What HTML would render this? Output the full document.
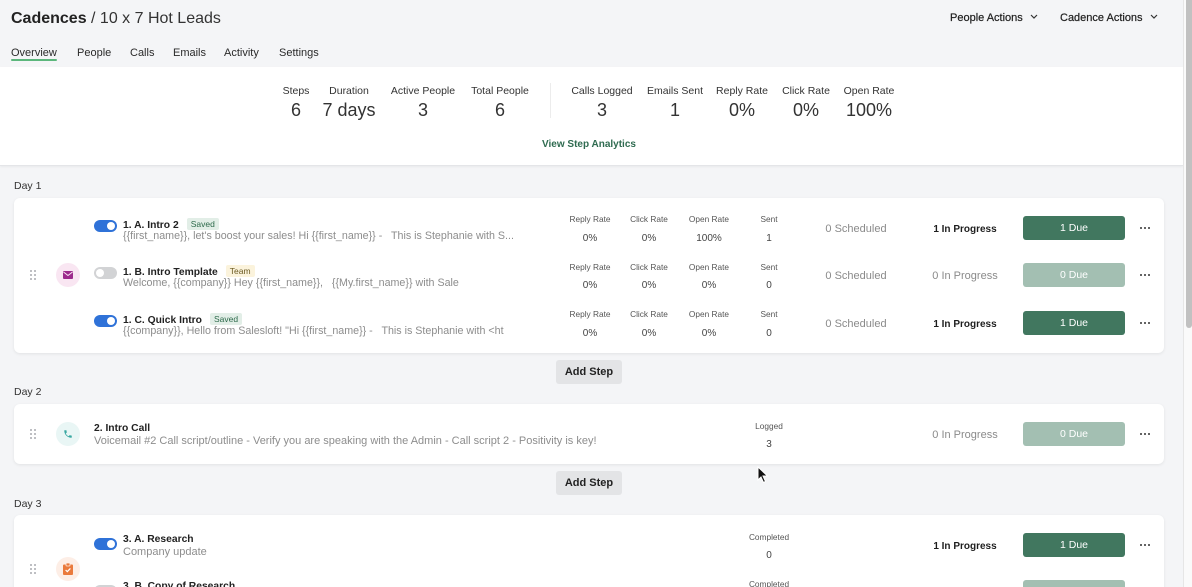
<!DOCTYPE html>
<html>
<head>
<meta charset="utf-8">
<style>
*{margin:0;padding:0;box-sizing:border-box}
html,body{width:1192px;height:587px;overflow:hidden;background:#f4f5f7;font-family:"Liberation Sans",Arial,sans-serif;color:#2b2b2b}
#w{position:relative;width:1192px;height:587px;overflow:hidden;background:#f4f5f7}
.a{position:absolute;white-space:pre;line-height:1;margin-top:1.5px}
.c{position:absolute;white-space:pre;line-height:1;text-align:center;width:140px;margin-left:-70px;margin-top:1.5px}
.card{position:absolute;left:14px;width:1150px;background:#fff;border-radius:6px;box-shadow:0 1px 3px rgba(0,0,0,.08)}
.tog{position:absolute;left:94px;width:23px;height:12px;border-radius:6px;background:#2f72d8}
.tog::after{content:"";position:absolute;top:2px;right:2px;width:8px;height:8px;border-radius:50%;background:#fff}
.tog.off{background:#d2d3d5}
.tog.off::after{right:auto;left:2px}
.ttl{position:absolute;left:123px;font-size:10.3px;font-weight:bold;line-height:1;white-space:pre;color:#222;margin-top:1px}
.badge{display:inline-block;font-size:8.5px;font-weight:normal;padding:2px 4px;border-radius:2px;margin-left:8px;vertical-align:1px}
.saved{background:#e2eee7;color:#2d6a4b}
.team{background:#fbf3dc;color:#6b5a22}
.sub{position:absolute;left:123px;font-size:10.7px;line-height:1;white-space:pre;color:#8d8d8d;margin-top:0.5px}
.lbl{font-size:8.3px;color:#555}
.val{font-size:10px;color:#444}
.sch{font-size:11px;color:#8a8a8a}
.prog{font-size:10px;font-weight:bold;color:#1e1e1e}
.prog.g{font-weight:normal;color:#8a8a8a;font-size:11px}
.btn{position:absolute;left:1023px;width:102px;height:24px;border-radius:3px;background:#41775f;color:#fff;font-size:10.5px;text-align:center;line-height:25px}
.btn.l{background:#a3bfb2}
.dots{position:absolute;left:1140px;width:10px;height:3px}
.dots i{position:absolute;top:0;width:2.2px;height:2.2px;border-radius:50%;background:#333}
.drag{position:absolute;left:30px;width:7px;height:10px}
.drag i{position:absolute;width:2px;height:2px;background:#a9abb0;border-radius:1px}
.ico{position:absolute;left:56px;width:24px;height:24px;border-radius:50%}
.add{position:absolute;left:556px;width:66px;height:24px;border-radius:3px;background:#e3e4e6;font-size:11px;font-weight:bold;text-align:center;line-height:25px;color:#222}
</style>
</head>
<body>
<div id="w">

<!-- Header -->
<div class="a" style="left:11px;top:9px;font-size:16px;color:#222"><b>Cadences</b><span style="color:#333"> / 10 x 7 Hot Leads</span></div>
<div class="a" style="left:11px;top:46px;font-size:11px;color:#2a2a2a">Overview</div>
<div class="a" style="left:77px;top:46px;font-size:11px;color:#2a2a2a">People</div>
<div class="a" style="left:130px;top:46px;font-size:11px;color:#2a2a2a">Calls</div>
<div class="a" style="left:173px;top:46px;font-size:11px;color:#2a2a2a">Emails</div>
<div class="a" style="left:224px;top:46px;font-size:11px;color:#2a2a2a">Activity</div>
<div class="a" style="left:279px;top:46px;font-size:11px;color:#2a2a2a">Settings</div>
<div style="position:absolute;left:11px;top:59px;width:46px;height:2px;background:#5cb77c;border-radius:1px"></div>

<div class="a" style="left:950px;top:11px;font-size:11px;color:#1e1e1e;-webkit-text-stroke:0.2px #1e1e1e">People Actions</div>
<svg style="position:absolute;left:1030px;top:14px" width="8" height="5" viewBox="0 0 8 5"><path d="M1 1 L4 4 L7 1" fill="none" stroke="#333" stroke-width="1.2"/></svg>
<div class="a" style="left:1060px;top:11px;font-size:11px;color:#1e1e1e;-webkit-text-stroke:0.2px #1e1e1e">Cadence Actions</div>
<svg style="position:absolute;left:1150px;top:14px" width="8" height="5" viewBox="0 0 8 5"><path d="M1 1 L4 4 L7 1" fill="none" stroke="#333" stroke-width="1.2"/></svg>

<!-- Stats panel -->
<div style="position:absolute;left:0;top:67px;width:1183px;height:99px;background:#fff;border-bottom:1px solid #e4e5e8;box-shadow:0 1px 2px rgba(0,0,0,.05)"></div>
<div class="c" style="left:296px;top:84px;font-size:10.5px;color:#333">Steps</div>
<div class="c" style="left:349px;top:84px;font-size:10.5px;color:#333">Duration</div>
<div class="c" style="left:423px;top:84px;font-size:10.5px;color:#333">Active People</div>
<div class="c" style="left:500px;top:84px;font-size:10.5px;color:#333">Total People</div>
<div class="c" style="left:602px;top:84px;font-size:10.5px;color:#333">Calls Logged</div>
<div class="c" style="left:675px;top:84px;font-size:10.5px;color:#333">Emails Sent</div>
<div class="c" style="left:742px;top:84px;font-size:10.5px;color:#333">Reply Rate</div>
<div class="c" style="left:806px;top:84px;font-size:10.5px;color:#333">Click Rate</div>
<div class="c" style="left:869px;top:84px;font-size:10.5px;color:#333">Open Rate</div>

<div class="c" style="left:296px;top:99px;font-size:18px;color:#333">6</div>
<div class="c" style="left:349px;top:99px;font-size:18px;color:#333">7 days</div>
<div class="c" style="left:423px;top:99px;font-size:18px;color:#333">3</div>
<div class="c" style="left:500px;top:99px;font-size:18px;color:#333">6</div>
<div class="c" style="left:602px;top:99px;font-size:18px;color:#333">3</div>
<div class="c" style="left:675px;top:99px;font-size:18px;color:#333">1</div>
<div class="c" style="left:742px;top:99px;font-size:18px;color:#333">0%</div>
<div class="c" style="left:806px;top:99px;font-size:18px;color:#333">0%</div>
<div class="c" style="left:869px;top:99px;font-size:18px;color:#333">100%</div>
<div style="position:absolute;left:550px;top:83px;width:1px;height:35px;background:#ececec"></div>
<div class="c" style="left:589px;top:138.5px;font-size:10px;font-weight:bold;color:#2f6b50">View Step Analytics</div>

<!-- Day 1 -->
<div class="a" style="left:14px;top:179.5px;font-size:10.5px;color:#333">Day 1</div>
<div class="card" style="top:198px;height:155px"></div>

<div class="drag" style="top:270px"><i style="left:0;top:0"></i><i style="left:4px;top:0"></i><i style="left:0;top:4px"></i><i style="left:4px;top:4px"></i><i style="left:0;top:8px"></i><i style="left:4px;top:8px"></i></div>
<div class="ico" style="top:263px;background:#f9e6f2"><svg style="position:absolute;left:7px;top:8px" width="10" height="8" viewBox="0 0 10 8"><rect x="0" y="0" width="10" height="8" rx="1" fill="#9d2a8c"/><path d="M0.5 1 L5 4.5 L9.5 1" fill="none" stroke="#f9e6f2" stroke-width="1"/></svg></div>

<!-- row 1 -->
<div class="tog" style="top:220px"></div>
<div class="ttl" style="top:216.5px">1. A. Intro 2<span class="badge saved">Saved</span></div>
<div class="sub" style="top:230.5px">{{first_name}}, let's boost your sales! Hi {{first_name}} -   This is Stephanie with S...</div>
<!-- row 2 -->
<div class="tog off" style="top:267px"></div>
<div class="ttl" style="top:263.5px">1. B. Intro Template<span class="badge team">Team</span></div>
<div class="sub" style="top:277.5px">Welcome, {{company}} Hey {{first_name}},   {{My.first_name}} with Sale</div>
<!-- row 3 -->
<div class="tog" style="top:315px"></div>
<div class="ttl" style="top:311.5px">1. C. Quick Intro<span class="badge saved">Saved</span></div>
<div class="sub" style="top:325.5px">{{company}}, Hello from Salesloft! "Hi {{first_name}} -   This is Stephanie with &lt;ht</div>

<!-- stats rows -->
<div class="c lbl" style="left:590px;top:213px">Reply Rate</div>
<div class="c lbl" style="left:649px;top:213px">Click Rate</div>
<div class="c lbl" style="left:709px;top:213px">Open Rate</div>
<div class="c lbl" style="left:769px;top:213px">Sent</div>
<div class="c val" style="left:590px;top:232px">0%</div>
<div class="c val" style="left:649px;top:232px">0%</div>
<div class="c val" style="left:709px;top:232px">100%</div>
<div class="c val" style="left:769px;top:232px">1</div>

<div class="c lbl" style="left:590px;top:261px">Reply Rate</div>
<div class="c lbl" style="left:649px;top:261px">Click Rate</div>
<div class="c lbl" style="left:709px;top:261px">Open Rate</div>
<div class="c lbl" style="left:769px;top:261px">Sent</div>
<div class="c val" style="left:590px;top:279px">0%</div>
<div class="c val" style="left:649px;top:279px">0%</div>
<div class="c val" style="left:709px;top:279px">0%</div>
<div class="c val" style="left:769px;top:279px">0</div>

<div class="c lbl" style="left:590px;top:308px">Reply Rate</div>
<div class="c lbl" style="left:649px;top:308px">Click Rate</div>
<div class="c lbl" style="left:709px;top:308px">Open Rate</div>
<div class="c lbl" style="left:769px;top:308px">Sent</div>
<div class="c val" style="left:590px;top:327px">0%</div>
<div class="c val" style="left:649px;top:327px">0%</div>
<div class="c val" style="left:709px;top:327px">0%</div>
<div class="c val" style="left:769px;top:327px">0</div>

<div class="c sch" style="left:856px;top:222.5px">0 Scheduled</div>
<div class="c sch" style="left:856px;top:269.5px">0 Scheduled</div>
<div class="c sch" style="left:856px;top:317.5px">0 Scheduled</div>
<div class="c prog" style="left:965px;top:223px">1 In Progress</div>
<div class="c prog g" style="left:965px;top:269.5px">0 In Progress</div>
<div class="c prog" style="left:965px;top:318px">1 In Progress</div>
<div class="btn" style="top:216px">1 Due</div>
<div class="btn l" style="top:263px">0 Due</div>
<div class="btn" style="top:311px">1 Due</div>
<div class="dots" style="top:227px"><i style="left:0"></i><i style="left:3.8px"></i><i style="left:7.6px"></i></div>
<div class="dots" style="top:274px"><i style="left:0"></i><i style="left:3.8px"></i><i style="left:7.6px"></i></div>
<div class="dots" style="top:322px"><i style="left:0"></i><i style="left:3.8px"></i><i style="left:7.6px"></i></div>

<div class="add" style="top:360px">Add Step</div>

<!-- Day 2 -->
<div class="a" style="left:14px;top:385.5px;font-size:10.5px;color:#333">Day 2</div>
<div class="card" style="top:404px;height:60px"></div>
<div class="drag" style="top:429px"><i style="left:0;top:0"></i><i style="left:4px;top:0"></i><i style="left:0;top:4px"></i><i style="left:4px;top:4px"></i><i style="left:0;top:8px"></i><i style="left:4px;top:8px"></i></div>
<div class="ico" style="top:422px;background:#e9f6f5"><svg style="position:absolute;left:7px;top:7px" width="10" height="10" viewBox="0 0 24 24"><path d="M6.6 10.8c1.4 2.8 3.8 5.1 6.6 6.6l2.2-2.2c.3-.3.7-.4 1-.2 1.1.4 2.3.6 3.6.6.6 0 1 .4 1 1V20c0 .6-.4 1-1 1C10.6 21 3 13.4 3 4c0-.6.4-1 1-1h3.5c.6 0 1 .4 1 1 0 1.3.2 2.5.6 3.6.1.3 0 .7-.2 1L6.6 10.8z" fill="#39a8a2"/></svg></div>
<div class="ttl" style="left:94px;top:422.5px">2. Intro Call</div>
<div class="sub" style="left:94px;top:435.5px;font-size:11px">Voicemail #2 Call script/outline - Verify you are speaking with the Admin - Call script 2 - Positivity is key!</div>
<div class="c lbl" style="left:769px;top:420px">Logged</div>
<div class="c val" style="left:769px;top:438px">3</div>
<div class="c prog g" style="left:965px;top:428.5px">0 In Progress</div>
<div class="btn l" style="top:422px">0 Due</div>
<div class="dots" style="top:433px"><i style="left:0"></i><i style="left:3.8px"></i><i style="left:7.6px"></i></div>

<div class="add" style="top:471px">Add Step</div>

<!-- Day 3 -->
<div class="a" style="left:14px;top:497.5px;font-size:10.5px;color:#333">Day 3</div>
<div class="card" style="top:515px;height:80px"></div>
<div class="drag" style="top:564px"><i style="left:0;top:0"></i><i style="left:4px;top:0"></i><i style="left:0;top:4px"></i><i style="left:4px;top:4px"></i><i style="left:0;top:8px"></i><i style="left:4px;top:8px"></i></div>
<div class="ico" style="top:557px;background:#fdeee6"><svg style="position:absolute;left:7px;top:6px" width="10" height="12" viewBox="0 0 10 12"><rect x="0" y="1.5" width="10" height="10.5" rx="1" fill="#ea7a3c"/><rect x="3" y="0" width="4" height="3" rx="0.8" fill="#ea7a3c" stroke="#fdeee6" stroke-width="0.8"/><path d="M2.6 7 L4.3 8.6 L7.4 5.4" fill="none" stroke="#fff" stroke-width="1.2"/></svg></div>
<div class="tog" style="top:538px"></div>
<div class="ttl" style="top:533.5px">3. A. Research</div>
<div class="sub" style="top:546.5px;font-size:11px">Company update</div>
<div class="c lbl" style="left:769px;top:531px">Completed</div>
<div class="c val" style="left:769px;top:549px">0</div>
<div class="c prog" style="left:965px;top:540px">1 In Progress</div>
<div class="btn" style="top:533px">1 Due</div>
<div class="dots" style="top:544px"><i style="left:0"></i><i style="left:3.8px"></i><i style="left:7.6px"></i></div>

<div class="tog off" style="top:585px"></div>
<div class="ttl" style="top:580.5px">3. B. Copy of Research</div>
<div class="c lbl" style="left:769px;top:578px">Completed</div>
<div class="btn l" style="top:580px;height:12px"></div>

<!-- cursor -->
<svg style="position:absolute;left:757px;top:466px" width="12" height="18" viewBox="0 0 12 18"><path d="M1 1 L1 14 L4 11 L6.5 16.5 L8.5 15.5 L6 10 L10.5 10 Z" fill="#111" stroke="#fff" stroke-width="1"/></svg>

<!-- scrollbar -->
<div style="position:absolute;left:1183px;top:0;width:9px;height:587px;background:#fafafa;border-left:1px solid #e6e6e6"></div>
<div style="position:absolute;left:1186px;top:0;width:6px;height:328px;background:#c1c1c1;border-radius:0 0 3px 3px"></div>

</div>
</body>
</html>
